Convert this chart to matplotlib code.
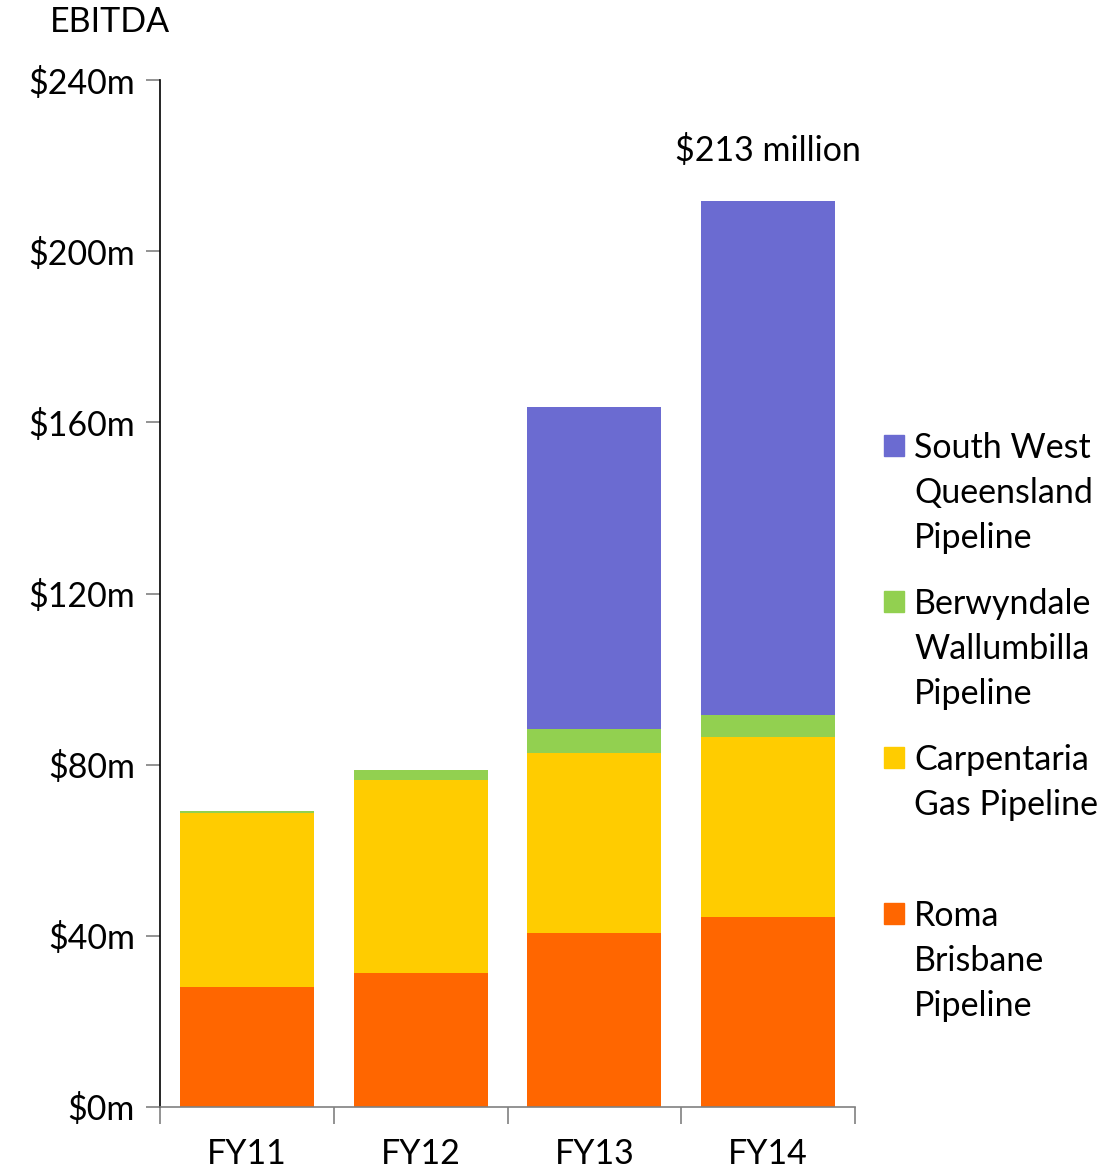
import matplotlib
matplotlib.use("Agg")
import matplotlib.pyplot as plt
from matplotlib.patches import Rectangle
import numpy as np

plt.rcParams['font.family'] = ['Lato', 'DejaVu Sans']

years = ['FY11', 'FY12', 'FY13', 'FY14']
roma = [28.0, 31.3, 40.7, 44.4]
carpentaria = [40.7, 45.1, 42.0, 42.1]
berwyndale = [0.5, 2.4, 5.6, 5.1]
swqp = [0.0, 0.0, 75.3, 120.1]

series = [
    (roma, '#FF6600', 'Roma\nBrisbane\nPipeline'),
    (carpentaria, '#FFCC00', 'Carpentaria\nGas Pipeline'),
    (berwyndale, '#92D050', 'Berwyndale\nWallumbilla\nPipeline'),
    (swqp, '#6B6BD1', 'South West\nQueensland\nPipeline'),
]

W, H = 1113, 1170
fs = 24.5
fig = plt.figure(figsize=(W / 100, H / 100), dpi=100)
ax = fig.add_axes([160 / W, 1 - 1107 / H, 695 / W, 1027 / H])

x = np.arange(len(years))
bottom = np.zeros(len(years))
for vals, col, lab in series:
    ax.bar(x, vals, 0.77, bottom=bottom, color=col, edgecolor='none')
    bottom += np.array(vals)

ax.set_xlim(-0.5, 3.5)
ax.set_ylim(0, 240)
ax.set_yticks(range(0, 241, 40))
ax.set_yticklabels(['$%dm' % v for v in range(0, 241, 40)], fontsize=fs)
ax.tick_params(axis='y', direction='out', length=10, width=1.2, color='#808080', pad=8)

ax.set_xticks(x)
ax.set_xticklabels(years, fontsize=fs)
ax.tick_params(axis='x', length=0, pad=22)
ax.set_xticks(np.arange(-0.5, 4, 1), minor=True)
ax.tick_params(axis='x', which='minor', direction='out', length=12, width=1.2, color='#808080')

for s in ['top', 'right']:
    ax.spines[s].set_visible(False)
ax.spines['left'].set_color('black')
ax.spines['left'].set_linewidth(1.2)
ax.spines['bottom'].set_color('#808080')
ax.spines['bottom'].set_linewidth(1.2)

ax.text(3, bottom[3] + 8, '$213 million', ha='center', va='bottom', fontsize=fs)
fig.text(50 / W, 1 - 22 / H, 'EBITDA', ha='left', va='center', fontsize=fs)

# legend drawn by hand
tops = [913, 757, 601, 445]
for (vals, col, lab), ty in zip(series, tops):
    fig.patches.append(Rectangle((884 / W, 1 - (ty + 11) / H), 20 / W, 21 / H,
                                 transform=fig.transFigure, color=col))
    fig.text(914 / W, 1 - (ty - 13) / H, lab, ha='left', va='top', fontsize=fs,
             linespacing=1.5)

fig.savefig('out.png', dpi=100)
